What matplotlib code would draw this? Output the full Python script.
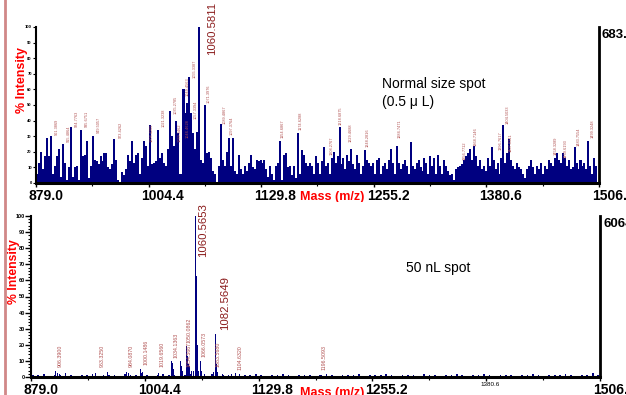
import matplotlib
matplotlib.use('Agg')
import matplotlib.pyplot as plt
from matplotlib.lines import Line2D
from matplotlib.patches import Rectangle
from matplotlib.transforms import ScaledTranslation
import numpy as np

plt.rcParams['font.family'] = ['Liberation Sans', 'DejaVu Sans']

####################################
# Data
####################################

# x axis
x_ticks = [879.0, 1004.4, 1129.8, 1255.2, 1380.6, 1506.0]
x_ticklabels = ['879.0', '1004.4', '1129.8', '1255.2', '1380.6', '1506.0']

# Normal size spot: % intensity, evenly spaced from 880.5 to 1503 m/z
top_int = [6, 13, 20, 9, 17, 29, 17, 30, 6, 11,
           17, 22, 4, 25, 13, 2, 10, 36, 4, 10,
           11, 2, 34, 17, 18, 27, 3, 11, 30, 15,
           14, 12, 17, 14, 19, 19, 10, 9, 12, 28, 15,
           2, 0, 7, 5, 9, 18, 14, 27, 13, 18, 19,
           6, 16, 27, 24, 11, 37, 12, 13, 14, 34,
           16, 19, 13, 11, 22, 46, 30, 24, 40, 32, 6,
           6, 60, 45, 51, 68, 45, 32, 22, 33, 100,
           15, 13, 50, 19, 20, 16, 8, 6, 0, 11,
           38, 15, 11, 20, 29, 11, 29, 8, 6, 18,
           9, 6, 11, 8, 13, 18, 10, 9, 15, 14,
           15, 13, 15, 9, 4, 11, 6, 2, 11, 13,
           27, 2, 18, 19, 10, 11, 5, 11, 3, 32,
           6, 21, 18, 13, 11, 13, 11, 6, 17, 13,
           6, 14, 23, 11,
           13, 6, 16, 20, 13, 17, 36, 12, 16, 9,
           18, 14, 22, 12, 9, 18, 13, 6, 11, 21,
           15, 13, 11, 13, 6, 15, 16, 6, 11, 13,
           9, 15, 22, 13, 6, 24, 13, 9, 12, 15,
           11, 6, 26, 11, 9, 13, 15, 10, 8, 16,
           13, 6, 17, 11, 16, 6, 18, 11, 6, 15,
           11, 8, 5, 6, 2, 9, 10, 11, 12, 15,
           17, 19, 22, 15, 24, 17, 11, 15, 9, 11,
           8, 16, 11, 23, 15, 9, 13, 6, 16, 37,
           13, 19, 28, 15, 11, 9, 13, 10, 9, 6,
           3, 9, 11, 15, 10, 6, 11, 9, 13, 6,
           11, 9, 15, 13, 11, 16, 19, 15, 13, 19,
           16, 11, 15, 9, 10, 23, 13, 9, 15, 11,
           13, 9, 27, 11, 6, 16, 11]
top_mz = np.linspace(880.5, 1503.0, len(top_int))

# peak labels (small), normal spot
top_lab_mz = [902.4, 915.7, 924.7, 935.8, 949.2, 973.7, 1008.2, 1021.5, 1034.9, 1039.4,
              1048.3, 1048.3, 1056.1, 1057.2, 1071.6, 1089.5, 1097.3, 1154.1, 1174.1,
              1208.6, 1218.6, 1229.8, 1248.7, 1284.3, 1356.7, 1369.0, 1396.8, 1404.6,
              1408.0, 1458.1, 1469.2, 1483.7, 1499.3]
top_lab_y = [31, 26, 36, 36, 32, 29, 26, 36, 44, 26,
             56, 29, 67, 41, 51, 38, 31, 29, 34,
             18, 37, 26, 23, 29, 15, 24, 21, 38,
             20, 18, 16, 24, 29]
top_lab_txt = ['901.3869', '915.4864', '924.7763', '935.6751', '949.5057', '973.4262',
               '1008.4209', '1021.3238', '1035.2785', '1039.3462', '1049.4563', '1046.4628',
               '1055.3387', '1057.3394', '1071.3976', '1089.4867', '1097.3764', '1154.6867',
               '1174.6288', '1208.2767', '1218.6875', '1229.4688', '1248.2816', '1284.7471',
               '1356.7712', '1368.7146', '1396.7617', '1404.5033', '1407.8341', '1458.3289',
               '1469.6193', '1483.7554', '1499.3248']

# 50 nL spot: baseline noise (evenly spaced 881 .. 1504) + named peaks
bot_noise = [1.5, 1, 2, 0.5, 1, 1.5, 2.5, 1, 0.5, 1.5,
             1, 2, 0.5, 1, 1.5, 1, 0.5, 2, 1.5, 1,
             2.5, 1, 0.5, 1.5, 2, 1, 1.5, 0.5, 1, 2,
             1.5, 1, 0.5, 2, 1, 1.5, 1, 0.5, 2, 1.5,
             1, 2, 1, 0.5, 1.5, 1, 2, 1, 0.5, 1.5,
             1, 1.5, 0.5, 1, 2, 1, 0.5, 1.5, 1, 1,
             2, 0.5, 1, 1.5, 1, 2, 1, 0.5, 1, 1.5,
             1, 0.5, 2, 1, 1.5, 0.5, 1, 1, 2, 1,
             0.5, 1.5, 1, 2, 1, 0.5, 1, 1.5, 1, 0.5,
             1.5, 1, 2, 1, 0.5, 1, 1.5, 1, 2, 1,
             0.5, 1, 1.5, 2.5, 1]
bot_noise_mz = np.linspace(881, 1504, len(bot_noise))

bot_peak_mz = [906.4, 908.0, 910.0, 950.0, 963.3, 984.1, 986.0, 1000.1, 1002.0, 1019.7,
               1034.1, 1035.1, 1036.1, 1043.5, 1044.5, 1045.5, 1050.1, 1051.1, 1052.1,
               1053.1, 1054.1, 1056.0, 1058.5, 1060.6, 1061.6, 1062.6, 1063.6, 1066.1,
               1067.1, 1070.0, 1080.5, 1082.6, 1083.6, 1084.5, 1090.0, 1100.0, 1104.6,
               1115.0, 1196.5]
bot_peak_int = [4, 2.5, 2, 2.5, 3, 3, 2.5, 5, 3, 2.5,
                10, 9, 5, 10, 7, 4, 19, 13, 8,
                7, 7, 4, 4, 100, 63, 20, 4, 10,
                4, 2, 3, 27, 8, 3, 2, 2, 2.5,
                1.5, 1.5]

bot_lab_mz = [911.0, 957.2, 989.2, 1005.7, 1023.4, 1038.8, 1053.1, 1053.1, 1069.6, 1085.1,
              1109.3, 1201.9]
bot_lab_y = [6.2, 6.2, 6.2, 7.5, 6.2, 11.8, 21, 6.2, 12.4, 6.2, 4.3, 4.3]
bot_lab_txt = ['906.3900', '963.3250', '984.0870', '1000.1486', '1019.6560', '1034.1363',
               '1050.0862', '1054.5667', '1066.0573', '1083.5680', '1104.6320', '1196.5093']

# big labels
top_big = [(1075.0, 82, '1060.5811')]
bot_big = [(1068.5, 74.5, '1060.5653'), (1092.8, 29, '1082.5649')]

####################################
# Style
####################################
W, H = 626, 395
NAVY = '#000080'
SMALL_RED = '#b05050'
BIG_RED = '#8b1c1c'
LABEL_RED = '#ff0000'


def box(l, r, t, b):
    return [l / W, 1 - b / H, (r - l) / W, (b - t) / H]


def style_axes(ax, small_label=False):
    ax.set_xlim(879.0, 1506.0)
    ax.set_ylim(0, 100)
    ax.spines['top'].set_visible(False)
    ax.spines['left'].set_linewidth(1.5)
    ax.spines['bottom'].set_linewidth(2.2)
    ax.spines['right'].set_linewidth(2)
    ax.set_xticks(x_ticks)
    ax.set_xticks([(a + b) / 2 for a, b in zip(x_ticks[:-1], x_ticks[1:])], minor=True)
    ax.set_xticklabels(x_ticklabels, fontsize=10, fontweight='bold')
    ax.tick_params(axis='x', which='major', length=3, width=1, pad=1.5)
    ax.tick_params(axis='x', which='minor', length=2, width=0.8)
    shift = ScaledTranslation(-7 / 100, 0, fig.dpi_scale_trans)
    for lbl in ax.get_xticklabels():
        lbl.set_ha('left')
        lbl.set_transform(lbl.get_transform() + shift)
    if small_label:
        lbl = ax.get_xticklabels()[4]
        lbl.set_fontsize(4.5)
        lbl.set_fontweight('normal')
        lbl.set_transform(lbl.get_transform() + ScaledTranslation(0.01, 0.01, fig.dpi_scale_trans))


fig = plt.figure(figsize=(W / 100, H / 100), dpi=100)

####################################
# Top panel: normal size spot
####################################
ax1 = fig.add_axes(box(36, 599, 27, 183), zorder=1)
step = top_mz[1] - top_mz[0]
ax1.bar(top_mz, top_int, width=step * 1.02, color=NAVY, linewidth=0)
style_axes(ax1)
ax1.set_yticks(range(0, 101, 10))
ax1.set_yticklabels([str(v) for v in range(0, 101, 10)], fontsize=3, fontweight='bold')
ax1.tick_params(axis='y', length=2, width=0.8, pad=1)

for mz, y, t in zip(top_lab_mz, top_lab_y, top_lab_txt):
    ax1.text(mz, y, t, rotation=90, ha='center', va='bottom', fontsize=2.8,
             color=SMALL_RED, clip_on=False)
for mz, y, t in top_big:
    ax1.text(mz, y, t, rotation=90, ha='center', va='bottom', fontsize=8.2,
             color=BIG_RED, clip_on=False)

ax1.text(332 / W, 1 - 197 / H, 'Mass (m/z)', transform=fig.transFigure, ha='center',
         va='center', fontsize=9, fontweight='bold', color=LABEL_RED, clip_on=False)

# white band hides the lower part of the top "Mass (m/z)"
fig.add_artist(Rectangle((0, 0), 1, (H - 202) / H, transform=fig.transFigure,
                         facecolor='white', edgecolor='none', zorder=2))

####################################
# Bottom panel: 50 nL spot
####################################
ax2 = fig.add_axes(box(31, 600, 216, 377), zorder=3)
ax2.bar(bot_noise_mz, bot_noise, width=1.8, color=NAVY, linewidth=0)
ax2.bar(bot_peak_mz, bot_peak_int, width=1.2, color=NAVY, linewidth=0)
style_axes(ax2, small_label=True)
ax2.set_yticks(range(0, 101, 10))
ax2.set_yticks(range(0, 101, 2), minor=True)
ax2.set_yticklabels([str(v) for v in range(0, 101, 10)], fontsize=4, fontweight='bold')
ax2.tick_params(axis='y', which='major', length=4, width=1, pad=0.3)
ax2.tick_params(axis='y', which='minor', length=2, width=0.8)

for mz, y, t in zip(bot_lab_mz, bot_lab_y, bot_lab_txt):
    ax2.text(mz, y, t, rotation=90, ha='center', va='bottom', fontsize=3.8,
             color=SMALL_RED, clip_on=False)
for mz, y, t in bot_big:
    ax2.text(mz, y, t, rotation=90, ha='center', va='bottom', fontsize=8.2,
             color=BIG_RED, clip_on=False)

ax2.text(332 / W, 1 - 393 / H, 'Mass (m/z)', transform=fig.transFigure, ha='center',
         va='center', fontsize=9, fontweight='bold', color=LABEL_RED, clip_on=False)

####################################
# Free text
####################################
fig.text(22 / W, 1 - 80 / H, '% Intensity', rotation=90, ha='center', va='center',
         fontsize=9, fontweight='bold', color=LABEL_RED, zorder=5)
fig.text(14 / W, 1 - 272 / H, '% Intensity', rotation=90, ha='center', va='center',
         fontsize=8.8, fontweight='bold', color=LABEL_RED, zorder=5)
fig.text(382 / W, 1 - 84 / H, 'Normal size spot', ha='left', va='center', fontsize=10)
fig.text(382 / W, 1 - 102 / H, '(0.5 \u03bc L)', ha='left', va='center', fontsize=10)
fig.text(406 / W, 1 - 268 / H, '50 nL spot', ha='left', va='center', fontsize=10, zorder=5)
fig.text(602 / W, 1 - 35 / H, '683.5', ha='left', va='center', fontsize=9.5, fontweight='bold')
fig.text(603 / W, 1 - 224 / H, '6064.2', ha='left', va='center', fontsize=9.5,
         fontweight='bold', zorder=5)

# pink rule on the left edge
fig.add_artist(Line2D([5 / W, 5 / W], [0, 1], transform=fig.transFigure, color='#d08888',
                      linewidth=2, zorder=10))

fig.savefig('out.png', dpi=100)
